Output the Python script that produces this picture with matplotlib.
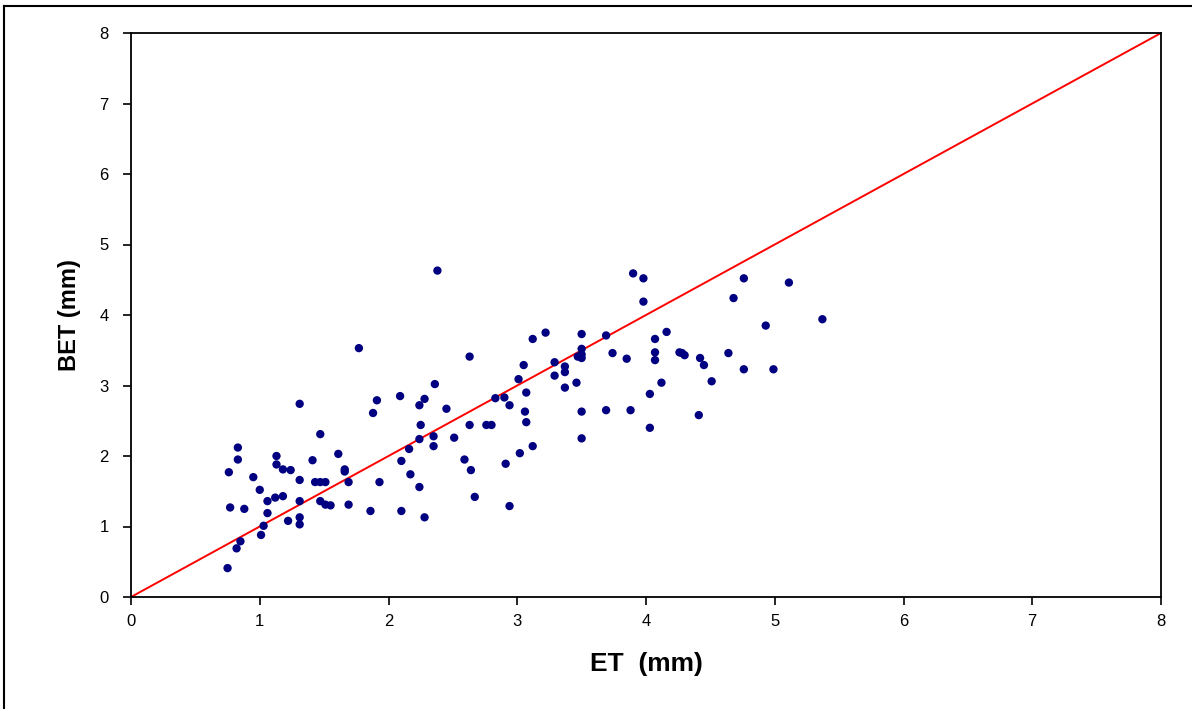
import matplotlib
matplotlib.use("Agg")
import matplotlib.pyplot as plt
from matplotlib.lines import Line2D

# ET vs BET daily values (mm)
et = [0.75, 0.82, 0.85, 0.77, 0.88, 0.76, 0.83, 0.83, 0.95, 1.00,
      1.01, 1.03, 1.06, 1.06, 1.12, 1.18, 1.13, 1.13, 1.18, 1.24,
      1.22, 1.31, 1.31, 1.31, 1.31, 1.31, 1.41, 1.43, 1.47, 1.51,
      1.47, 1.51, 1.55, 1.47, 1.61, 1.66, 1.66, 1.69, 1.69, 1.77,
      1.86, 1.88, 1.91, 1.93, 2.09, 2.10, 2.10, 2.17, 2.16, 2.24,
      2.28, 2.25, 2.24, 2.24, 2.28, 2.35, 2.35, 2.36, 2.38, 2.45,
      2.51, 2.59, 2.63, 2.64, 2.63, 2.67, 2.76, 2.80, 2.83, 2.90,
      2.91, 2.94, 2.94, 3.01, 3.02, 3.05, 3.06, 3.07, 3.07, 3.12,
      3.12, 3.22, 3.29, 3.29, 3.37, 3.37, 3.37, 3.46, 3.47, 3.50,
      3.50, 3.50, 3.50, 3.50, 3.50, 3.69, 3.69, 3.74, 3.85, 3.88,
      3.90, 3.98, 3.98, 4.03, 4.03, 4.07, 4.07, 4.07, 4.12, 4.16,
      4.26, 4.28, 4.30, 4.41, 4.42, 4.45, 4.51, 4.64, 4.68, 4.76,
      4.76, 4.93, 4.99, 5.11, 5.37]
bet = [0.41, 0.69, 0.79, 1.27, 1.25, 1.77, 1.95, 2.12, 1.70, 1.52,
       0.88, 1.01, 1.19, 1.36, 1.41, 1.43, 1.88, 2.00, 1.81, 1.80,
       1.08, 1.13, 1.03, 1.36, 1.66, 2.74, 1.94, 1.63, 1.63, 1.63,
       1.36, 1.31, 1.30, 2.31, 2.03, 1.81, 1.78, 1.63, 1.31, 3.53,
       1.22, 2.61, 2.79, 1.63, 2.85, 1.93, 1.22, 1.74, 2.10, 2.72,
       2.81, 2.44, 2.24, 1.56, 1.13, 2.14, 2.28, 3.02, 4.63, 2.67,
       2.26, 1.95, 2.44, 1.80, 3.41, 1.42, 2.44, 2.44, 2.82, 2.83,
       1.89, 2.72, 1.29, 3.09, 2.04, 3.29, 2.63, 2.48, 2.90, 3.66,
       2.14, 3.75, 3.33, 3.14, 3.27, 2.97, 3.19, 3.04, 3.41, 3.44,
       3.52, 3.73, 3.39, 2.63, 2.25, 2.65, 3.71, 3.46, 3.38, 2.65,
       4.59, 4.52, 4.19, 2.40, 2.88, 3.66, 3.47, 3.36, 3.04, 3.76,
       3.47, 3.46, 3.43, 2.58, 3.39, 3.29, 3.06, 3.46, 4.24, 4.52,
       3.23, 3.85, 3.23, 4.46, 3.94]

ticks = list(range(0, 9))

plt.rcParams["font.family"] = ["Liberation Sans", "DejaVu Sans"]

fig = plt.figure(figsize=(11.92, 7.09), dpi=100)
ax = fig.add_axes([131 / 1192, 1 - 597 / 709, 1030 / 1192, 564 / 709])

ax.plot([0, 8], [0, 8], color="#ff0000", linewidth=1.4, zorder=2)
ax.scatter(et, bet, s=36, color="#000080", edgecolors="none", zorder=3)

ax.set_xlim(0, 8)
ax.set_ylim(0, 8)
ax.set_xticks(ticks)
ax.set_yticks(ticks)
ax.tick_params(direction="out", length=6, width=1.2, labelsize=12, pad=6,
               top=False, right=False)
ax.tick_params(axis="y", pad=10)
for side in ax.spines.values():
    side.set_linewidth(1.3)
    side.set_color("black")

ax.set_xlabel("ET  (mm)", fontsize=19, fontweight="bold", labelpad=17)
ax.set_ylabel("BET (mm)", fontsize=17, fontweight="bold", labelpad=13)

# outer frame of the original picture (clipped at right and bottom)
fig.add_artist(Line2D([4 / 1192, 4 / 1192], [0, 1 - 6 / 709],
                      transform=fig.transFigure, color="black", linewidth=1.5))
fig.add_artist(Line2D([4 / 1192, 1], [1 - 6 / 709, 1 - 6 / 709],
                      transform=fig.transFigure, color="black", linewidth=1.5))

fig.savefig("out.png", dpi=100)
